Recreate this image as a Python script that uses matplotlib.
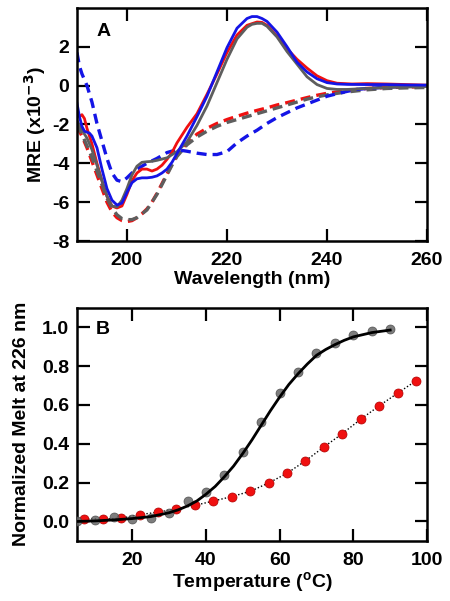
"""
    CD spectra (A) and thermal melt at 226 nm (B)
"""
import matplotlib
matplotlib.use('Agg')
import matplotlib.pyplot as plt

plt.rcParams['font.family'] = ['Liberation Sans', 'DejaVu Sans']
plt.rcParams['font.weight'] = 'bold'
plt.rcParams['mathtext.default'] = 'bf'
plt.rcParams['axes.unicode_minus'] = False

# ---- panel A: MRE (x10^-3) vs wavelength ----
gray_x = [190, 191, 192, 193, 194, 195, 196, 197, 198, 199, 200, 201, 202, 203, 204, 205, 206, 208, 210,
          212, 214, 216, 218, 220, 222, 224, 225, 226, 227, 228, 230, 232, 234, 236, 238, 240, 242, 244,
          248, 252, 256, 260]
gray_y = [-1.8, -2.3, -2.7, -3.3, -4.1, -4.9, -5.7, -6.2, -6.25, -5.9, -5.3, -4.6, -4.15, -3.95, -3.92,
          -3.9, -3.85, -3.72, -3.4, -2.9, -2.05, -1.05, 0.15, 1.35, 2.4, 3.0, 3.15, 3.2, 3.2, 3.05, 2.5,
          1.75, 1.1, 0.45, 0.05, -0.15, -0.2, -0.2, -0.15, -0.1, -0.08, -0.05]

red_x = [190, 190.5, 191, 191.5, 192, 193, 194, 195, 196, 197, 198, 199, 200, 201, 202, 203, 204, 205,
         206, 207, 208, 209, 210, 212, 214, 216, 218, 220, 222, 224, 226, 227, 228, 230, 232, 234, 236,
         238, 240, 242, 245, 248, 252, 256, 260]
red_y = [-1.4, -1.6, -1.5, -1.7, -2.2, -3.0, -4.0, -4.9, -5.7, -6.2, -6.3, -6.2, -5.6, -4.9, -4.5, -4.3,
         -4.3, -4.4, -4.3, -4.1, -3.8, -3.45, -2.95, -2.15, -1.45, -0.45, 0.6, 1.7, 2.6, 3.1, 3.27, 3.25,
         3.1, 2.55, 1.9, 1.35, 0.9, 0.5, 0.25, 0.12, 0.08, 0.1, 0.08, 0.05, 0.02]

blue_x = [190, 190.5, 191, 191.5, 192, 192.5, 193, 194, 195, 196, 197, 198, 199, 200, 201, 202, 203, 204,
          205, 206, 207, 208, 209, 210, 212, 214, 216, 218, 220, 222, 224, 225, 226, 227, 228, 230, 232,
          234, 236, 238, 240, 242, 244, 248, 252, 256, 260]
blue_y = [-0.9, -1.6, -2.1, -2.35, -2.4, -2.45, -2.6, -3.2, -4.3, -5.3, -5.9, -6.15, -6.05, -5.5, -5.0,
          -4.8, -4.75, -4.75, -4.72, -4.65, -4.5, -4.3, -3.95, -3.5, -2.6, -1.6, -0.55, 0.7, 1.95, 2.95,
          3.45, 3.55, 3.55, 3.45, 3.3, 2.75, 2.0, 1.2, 0.7, 0.35, 0.15, 0.08, 0.06, 0.05, 0.05, 0.03, 0.02]

dash_x = [190, 191, 192, 193, 194, 195, 196, 197, 198, 199, 200, 201, 202, 203, 204, 205, 206, 207, 208,
          209, 210, 212, 214, 216, 218, 220, 222, 224, 226, 228, 230, 232, 234, 236, 238, 240, 242, 244,
          248, 252, 256, 260]
gray_dash_y = [-2.0, -2.5, -3.1, -3.7, -4.4, -5.1, -5.8, -6.3, -6.65, -6.85, -6.9, -6.9, -6.8, -6.6, -6.4,
               -6.0, -5.6, -5.1, -4.6, -4.1, -3.65, -3.05, -2.65, -2.35, -2.1, -1.9, -1.75, -1.6, -1.45,
               -1.3, -1.15, -1.0, -0.85, -0.7, -0.58, -0.48, -0.4, -0.33, -0.22, -0.15, -0.12, -0.1]
red_dash_y = [-2.1, -2.6, -3.2, -3.9, -4.6, -5.3, -6.0, -6.5, -6.8, -6.95, -7.0, -6.95, -6.8, -6.6, -6.35,
              -6.0, -5.55, -5.05, -4.55, -4.05, -3.6, -2.95, -2.5, -2.2, -1.95, -1.75, -1.58, -1.42, -1.28,
              -1.15, -1.0, -0.88, -0.75, -0.62, -0.5, -0.4, -0.33, -0.25, -0.15, -0.1, -0.08, -0.05]

blue_dash_x = [190, 190.5, 191, 192, 193, 194, 195, 196, 197, 198, 199, 200, 201, 202, 204, 206, 208, 210,
               212, 214, 216, 218, 220, 222, 224, 226, 228, 230, 232, 234, 236, 238, 240, 242, 244, 246,
               248, 252, 256, 260]
blue_dash_y = [1.7, 1.0, 0.6, 0.0, -0.85, -1.95, -2.85, -3.75, -4.5, -4.87, -4.95, -4.75, -4.5, -4.3, -4.0,
               -3.75, -3.45, -3.3, -3.38, -3.48, -3.55, -3.55, -3.4, -2.95, -2.6, -2.3, -1.95, -1.65, -1.4,
               -1.15, -0.95, -0.75, -0.55, -0.42, -0.3, -0.2, -0.15, -0.08, -0.04, 0.0]

# ---- panel B: normalized melt at 226 nm ----
temp_gray = [5, 10, 15, 20, 25, 30, 35, 40, 45, 50, 55, 60, 65, 70, 75, 80, 85, 90]
melt_gray = [0.0, 0.01, 0.025, 0.015, 0.02, 0.045, 0.105, 0.15, 0.24, 0.355, 0.51, 0.66, 0.77, 0.865,
             0.92, 0.96, 0.98, 0.99]
fit_x = [5, 10, 15, 20, 25, 30, 32.5, 35, 37.5, 40, 42.5, 45, 47.5, 50, 52.5, 55, 57.5, 60, 62.5, 65,
         67.5, 70, 72.5, 75, 77.5, 80, 85, 90]
fit_y = [0.0, 0.003, 0.008, 0.015, 0.025, 0.045, 0.06, 0.08, 0.105, 0.14, 0.18, 0.23, 0.285, 0.35, 0.42,
         0.495, 0.57, 0.64, 0.705, 0.76, 0.81, 0.855, 0.885, 0.91, 0.932, 0.95, 0.972, 0.985]
temp_red = [7, 12, 17, 22, 27, 32, 37, 42, 47, 52, 57, 62, 67, 72, 77, 82, 87, 92, 97]
melt_red = [0.015, 0.012, 0.017, 0.035, 0.048, 0.065, 0.083, 0.105, 0.128, 0.155, 0.198, 0.248, 0.312,
            0.383, 0.452, 0.526, 0.595, 0.66, 0.724]

RED = '#f01010'
BLUE = '#1414e6'
GRAY = '#5e5e5e'
FS = 14


def style_axes(ax):
    for s in ax.spines.values():
        s.set_linewidth(1.8)
    ax.tick_params(direction='in', length=9, width=1.6, top=True, right=True,
                   labelsize=FS, pad=5.5)
    ax.tick_params(axis='x', pad=8)
    for lab in ax.get_xticklabels() + ax.get_yticklabels():
        lab.set_fontweight('bold')


def draw_chart():
    fig = plt.figure(figsize=(4.5, 6.01), dpi=100)
    ax1 = fig.add_axes([0.171, 0.599, 0.778, 0.388])
    ax2 = fig.add_axes([0.171, 0.100, 0.778, 0.388])

    lw = 2.0
    ax1.plot(dash_x, red_dash_y, color=RED, lw=2.4, dashes=(3, 1.8))
    ax1.plot(dash_x, gray_dash_y, color=GRAY, lw=2.4, dashes=(3, 1.8))
    ax1.plot(blue_dash_x, blue_dash_y, color=BLUE, lw=2.4, dashes=(3, 1.8))
    ax1.plot(red_x, red_y, color=RED, lw=lw)
    ax1.plot(gray_x, gray_y, color=GRAY, lw=lw)
    ax1.plot(blue_x, blue_y, color=BLUE, lw=lw)

    ax1.set_xlim(190, 260)
    ax1.set_ylim(-8, 4)
    ax1.set_xticks([200, 220, 240, 260])
    ax1.set_yticks([-8, -6, -4, -2, 0, 2])
    ax1.set_xlabel('Wavelength (nm)', fontsize=FS, fontweight='bold', labelpad=1)
    ax1.set_ylabel('MRE (x10$^{-3}$)', fontsize=FS, fontweight='bold', labelpad=3)
    ax1.text(0.055, 0.9, 'A', transform=ax1.transAxes, fontsize=FS, fontweight='bold',
             va='center', ha='left')
    style_axes(ax1)

    ax2.plot(temp_red, melt_red, color='black', lw=1.0, ls=(0, (1, 1.5)), zorder=1)
    ax2.plot(temp_red, melt_red, 'o', color=RED, ms=6.5, mec='#b00000', mew=0.5, zorder=2)
    ax2.plot(temp_gray, melt_gray, 'o', color='#666666', alpha=0.85, ms=6.5, mec='#444444',
             mew=0.5, zorder=3)
    ax2.plot(fit_x, fit_y, color='black', lw=2.0, zorder=4)

    ax2.set_xlim(5, 100)
    ax2.set_ylim(-0.1, 1.1)
    ax2.set_xticks([20, 40, 60, 80, 100])
    ax2.set_yticks([0.0, 0.2, 0.4, 0.6, 0.8, 1.0])
    ax2.set_yticklabels(['0.0', '0.2', '0.4', '0.6', '0.8', '1.0'])
    ax2.set_xlabel('Temperature ($^{\\mathregular{o}}$C)', fontsize=FS, fontweight='bold', labelpad=1)
    ax2.set_ylabel('Normalized Melt at 226 nm', fontsize=FS, fontweight='bold', labelpad=9)
    ax2.text(0.055, 0.905, 'B', transform=ax2.transAxes, fontsize=FS, fontweight='bold',
             va='center', ha='left')
    style_axes(ax2)

    fig.savefig('out.png', dpi=100)


def main():
    draw_chart()


if __name__ == '__main__':
    main()
